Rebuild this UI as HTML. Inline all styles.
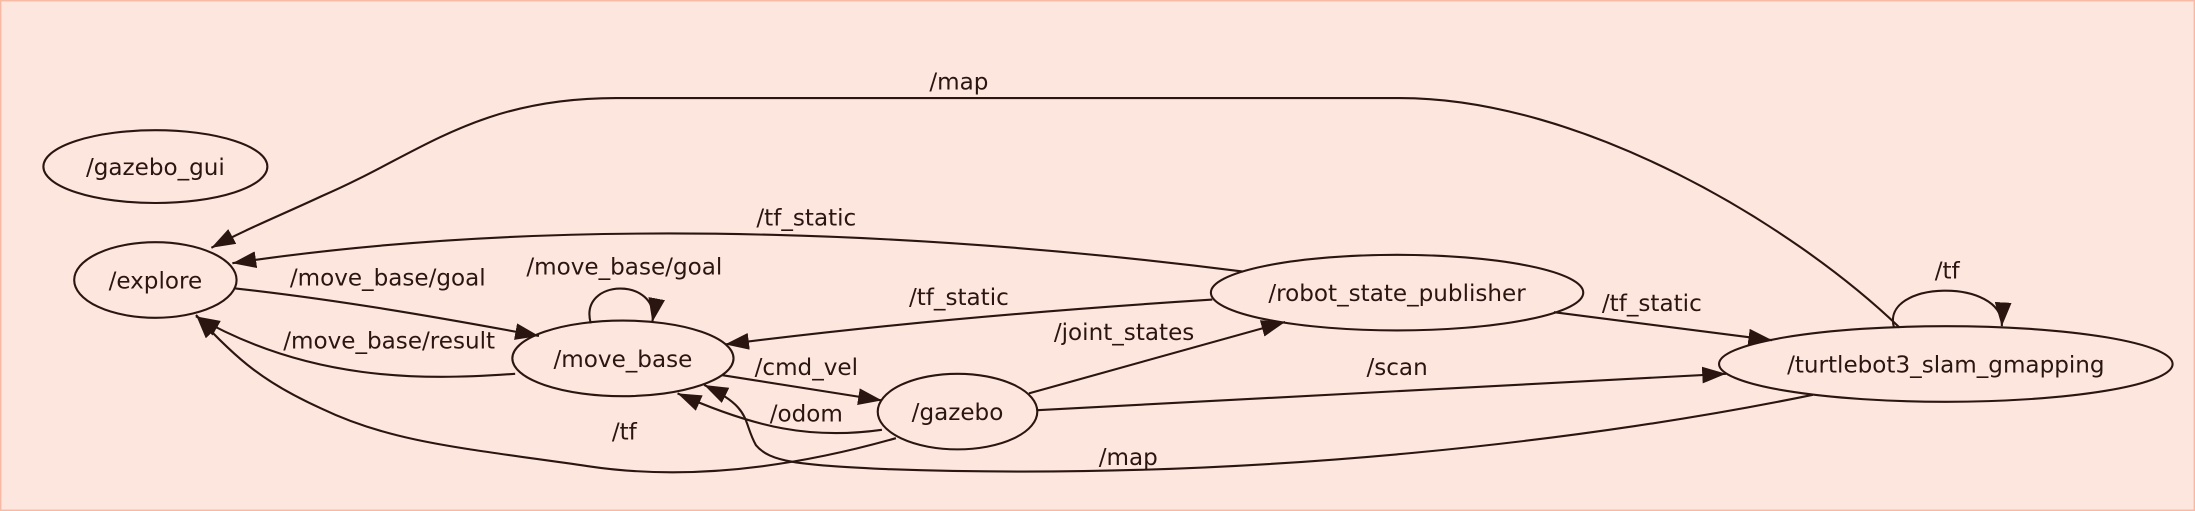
<!DOCTYPE html>
<html><head><style>
html,body{margin:0;padding:0;background:#fde6de;}
svg{display:block}
text{font-family:"DejaVu Sans","Liberation Sans",sans-serif;font-size:16.5px;fill:#2a1510;text-anchor:middle}
</style></head><body>
<svg width="2195" height="511" viewBox="0 0 1568 365" xmlns="http://www.w3.org/2000/svg">
<defs><marker id="a" markerWidth="17" markerHeight="12" refX="17" refY="6" orient="auto" markerUnits="userSpaceOnUse"><path d="M0,0 L17,6 L0,12 Z" fill="#2a1510"/></marker></defs>
<rect x="0.5" y="0.5" width="1567" height="364" fill="#fde6de" stroke="#f7b9a4" stroke-width="1"/>
<g fill="none" stroke="#2a1510" stroke-width="1.5">
<ellipse cx="111" cy="119" rx="80" ry="26"/>
<ellipse cx="111" cy="200" rx="58" ry="27"/>
<ellipse cx="445" cy="256" rx="79" ry="27"/>
<ellipse cx="684" cy="294" rx="57" ry="27"/>
<ellipse cx="998" cy="209" rx="133" ry="27"/>
<ellipse cx="1390" cy="260" rx="162" ry="27"/>
<g marker-end="url(#a)">
<path d="M1357,234 C1280,160 1130,70 1000,70 L440,70 C340,70 300,110 230,140 C200,154 175,164 151,177"/>
<path d="M888,194 C700,170 420,150 166,188"/>
<path d="M168,206 C240,214 310,226 385,240"/>
<path d="M368,267 C300,272 220,272 140,226"/>
<path d="M422,231 C413,198 472,198 466,230"/>
<path d="M866,214 C740,222 620,233 518,246"/>
<path d="M516,268 L630,286"/>
<path d="M630,307 C580,314 540,306 484,281"/>
<path d="M640,313 C580,330 500,345 420,333 C330,320 280,316 230,292 C190,274 170,258 140,225"/>
<path d="M735,281 L918,230"/>
<path d="M741,293 L1233,267"/>
<path d="M1110,223 L1266,243"/>
<path d="M1295,282 C1150,312 900,345 630,335 C570,332 550,330 540,318 C530,300 538,292 503,275"/>
<path d="M1353,234 C1343,200 1432,198 1430,233"/>
</g></g>
<text x="685" y="64">/map</text>
<text x="111" y="125">/gazebo_gui</text>
<text x="111" y="206">/explore</text>
<text x="445" y="262">/move_base</text>
<text x="684" y="300">/gazebo</text>
<text x="998" y="215">/robot_state_publisher</text>
<text x="1390" y="266">/turtlebot3_slam_gmapping</text>
<text x="576" y="161">/tf_static</text>
<text x="277" y="204">/move_base/goal</text>
<text x="278" y="249">/move_base/result</text>
<text x="446" y="196">/move_base/goal</text>
<text x="685" y="218">/tf_static</text>
<text x="576" y="268">/cmd_vel</text>
<text x="576" y="301">/odom</text>
<text x="446" y="314">/tf</text>
<text x="803" y="243">/joint_states</text>
<text x="998" y="268">/scan</text>
<text x="1180" y="222">/tf_static</text>
<text x="806" y="332">/map</text>
<text x="1391" y="199">/tf</text>
</svg>
</body></html>
